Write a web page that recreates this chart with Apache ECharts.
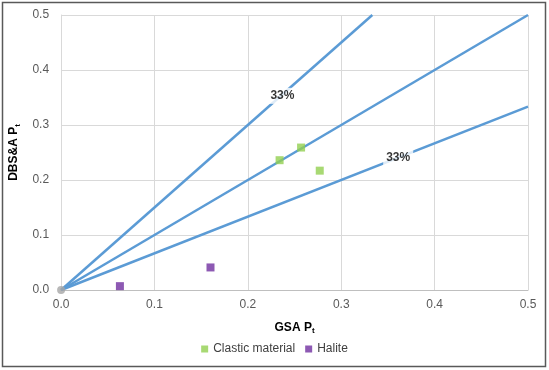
<!DOCTYPE html>
<html><head><meta charset="utf-8">
<script src="https://cdn.jsdelivr.net/npm/echarts@6/dist/echarts.min.js"></script>
<style>html,body{margin:0;padding:0;background:#fff}#c{width:549px;height:370px}</style>
</head><body><div id="c"></div>
<script>
var xTicks = [0, 0.1, 0.2, 0.3, 0.4, 0.5];
var yTicks = [0, 0.1, 0.2, 0.3, 0.4, 0.5];
var lineUpper = [[0, 0], [0.3333, 0.5]];
var lineMiddle = [[0, 0], [0.5, 0.5]];
var lineLower = [[0, 0], [0.5, 0.3333]];
var labelPoints = [[0.237, 0.353], [0.361, 0.241]];
var labelText = '33%';
var clastic = [[0.234, 0.236], [0.257, 0.259], [0.277, 0.217]];
var halite = [[0.063, 0.007], [0.160, 0.041]];
var origin = [[0, 0]];

var chart = echarts.init(document.getElementById('c'), null, {renderer: 'canvas'});
var ff = '"Liberation Sans", Arial, sans-serif';
function lineSeries(d) {
  return {type: 'line', data: d, symbol: 'none', silent: true,
    lineStyle: {color: '#5B9BD5', width: 2.5}, z: 2};
}
chart.setOption({
  animation: false,
  textStyle: {fontFamily: ff},
  graphic: [{type: 'rect', shape: {x: 2.5, y: 2.5, width: 543, height: 364},
    style: {fill: 'none', stroke: '#595959', lineWidth: 1.5}, z: -1}],
  grid: {left: 58, right: 21, top: 15, bottom: 80},
  legend: {bottom: 10, left: 'center', itemWidth: 7, itemHeight: 7, itemGap: 10,
    icon: 'rect', textStyle: {fontSize: 12, color: '#404040', fontFamily: ff},
    data: ['Clastic material', 'Halite']},
  xAxis: {type: 'value', min: 0, max: 0.5, interval: 0.1,
    name: '{b|GSA P}{s|t}', nameLocation: 'middle', nameGap: 30,
    nameTextStyle: {rich: {b: {fontSize: 12, fontWeight: 'bold', color: '#000', fontFamily: ff},
      s: {fontSize: 8, fontWeight: 'bold', color: '#000', fontFamily: ff, padding: [7, 0, 0, 0]}}},
    axisLine: {show: true, lineStyle: {color: '#bfbfbf'}},
    axisTick: {show: false},
    axisLabel: {fontSize: 12, color: '#595959', margin: 9, formatter: function (v) { return v.toFixed(1); }},
    splitLine: {lineStyle: {color: '#d9d9d9'}}},
  yAxis: {type: 'value', min: 0, max: 0.5, interval: 0.1,
    name: '{b|DBS&A P}{s|t}', nameLocation: 'middle', nameGap: 29, nameRotate: 90,
    nameTextStyle: {rich: {b: {fontSize: 12, fontWeight: 'bold', color: '#000', fontFamily: ff},
      s: {fontSize: 8, fontWeight: 'bold', color: '#000', fontFamily: ff, padding: [7, 0, 0, 0]}}},
    axisLine: {show: true, lineStyle: {color: '#d9d9d9'}},
    axisTick: {show: false},
    axisLabel: {fontSize: 12, color: '#595959', margin: 12, formatter: function (v) { return v.toFixed(1); }},
    splitLine: {lineStyle: {color: '#d9d9d9'}}},
  series: [
    lineSeries(lineUpper), lineSeries(lineMiddle), lineSeries(lineLower),
    {type: 'scatter', data: labelPoints, symbolSize: 0, silent: true, z: 5,
      label: {show: true, position: 'inside', formatter: labelText, fontSize: 12, fontWeight: 'bold',
        color: '#000', backgroundColor: '#fff', padding: [2, 3]}},
    {type: 'scatter', data: origin, symbol: 'circle', symbolSize: 8, itemStyle: {color: '#a6a6a6'}, z: 6, silent: true},
    {name: 'Clastic material', type: 'scatter', data: clastic, symbol: 'rect', symbolSize: 8,
      itemStyle: {color: '#92D050'}, z: 6},
    {name: 'Halite', type: 'scatter', data: halite, symbol: 'rect', symbolSize: 8,
      itemStyle: {color: '#7030A0'}, z: 6}
  ]
});
</script></body></html>
